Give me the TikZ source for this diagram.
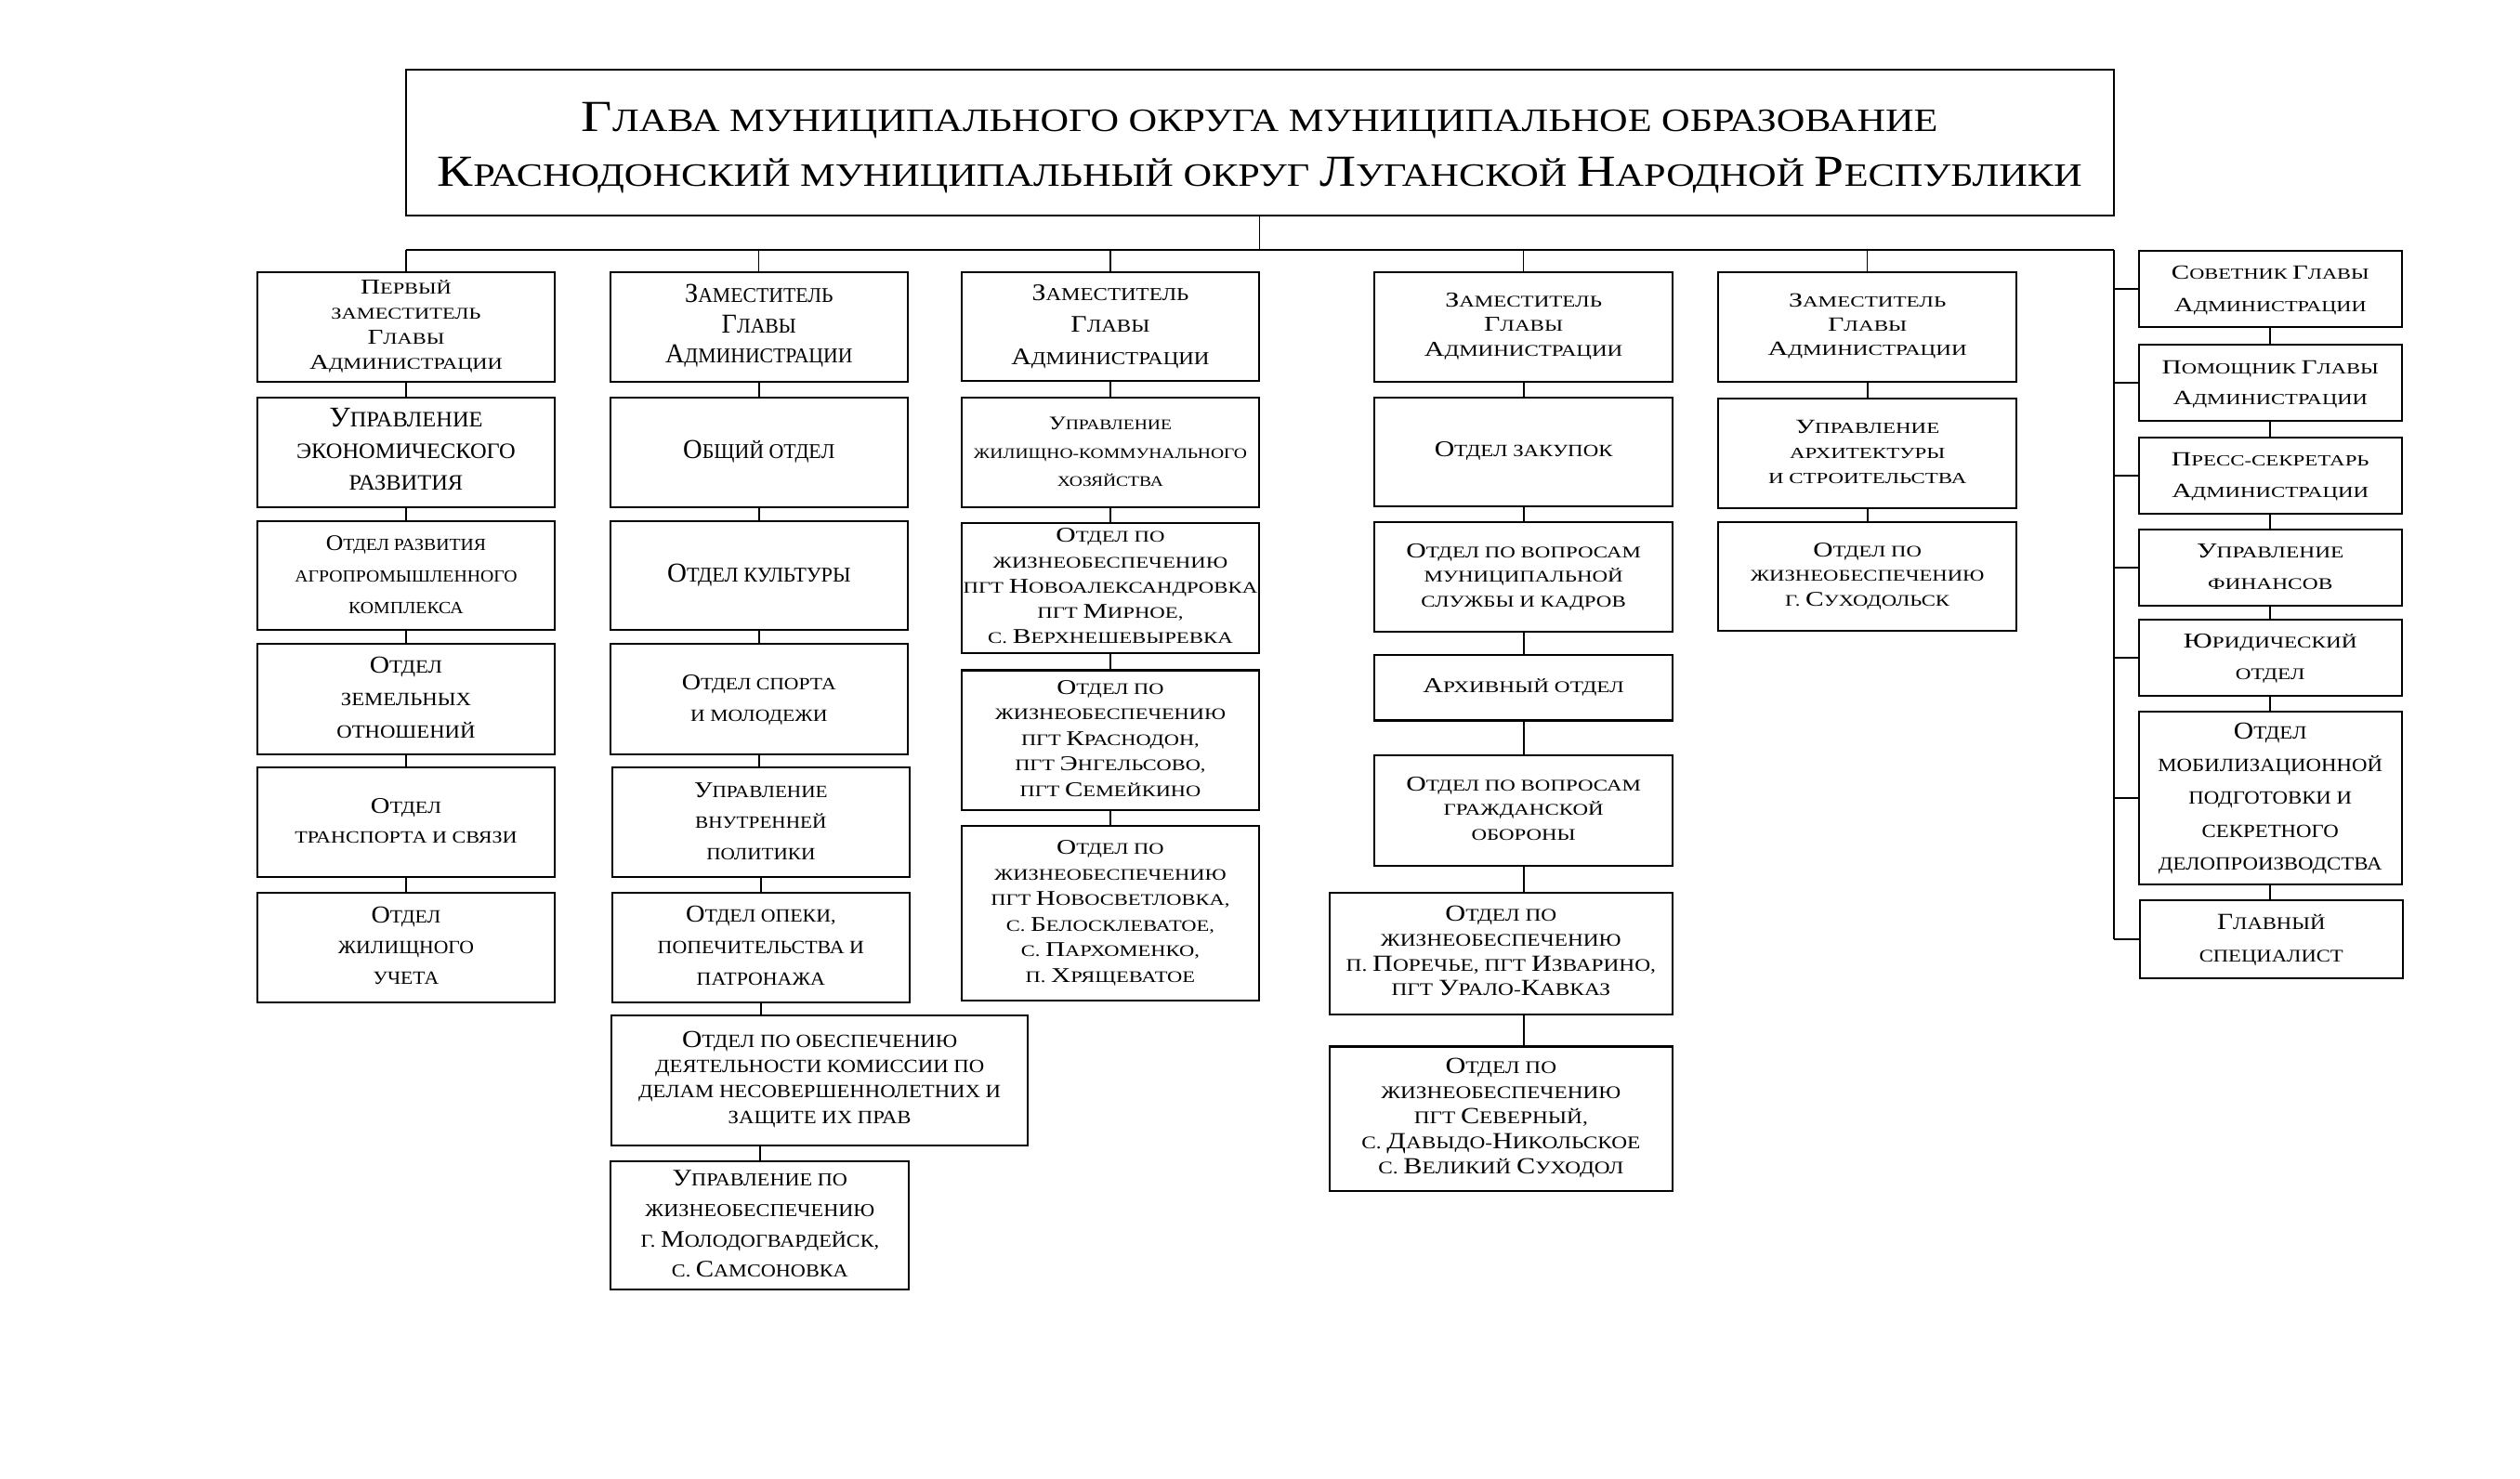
\documentclass[tikz,border=0pt]{standalone}
\usepackage{fontspec}
\usepackage{graphicx}
\setmainfont{Liberation Serif}
\newcommand\ks{1.3}
\newcommand\K[1]{\scalebox{\ks}{#1}}
\tikzset{
  box/.style={draw, line width=1.2pt, rectangle, inner sep=0pt, outer sep=0pt, align=center},
  conn/.style={line width=1pt},
  thinln/.style={line width=0.7pt},
  busln/.style={line width=1.1pt},
  rbus/.style={line width=1.15pt}
}
\newcommand\Bx[9]{\node[box,minimum width={(#3)-(#2)},minimum height={(#5)-(#4)}] (#1) at ({((#2)+(#3))/2},{((#4)+(#5))/2}) {\fontsize{#6}{#7}\selectfont\resizebox{#8pt}{\height}{\begin{tabular}{@{}c@{}}#9\end{tabular}}};}
\begin{document}
\begin{tikzpicture}[x=1pt,y=-1pt]
\useasboundingbox (0,0) rectangle (1560,915.7);
% title
\node[box,minimum width={1308.4-251.4},minimum height={133.3-43.1}] (title) at ({(251.4+1308.4)/2},{(43.1+133.3)/2})
 {\renewcommand\ks{1.36}\fontsize{20.2}{33.5}\selectfont\raisebox{-3.5pt}[\height][\depth]{\resizebox{1018pt}{\height}{\begin{tabular}{@{}c@{}}\K{Г}ЛАВА МУНИЦИПАЛЬНОГО ОКРУГА МУНИЦИПАЛЬНОЕ ОБРАЗОВАНИЕ\\ \K{К}РАСНОДОНСКИЙ МУНИЦИПАЛЬНЫЙ ОКРУГ \K{Л}УГАНСКОЙ \K{Н}АРОДНОЙ \K{Р}ЕСПУБЛИКИ\end{tabular}}}};
% column 1
\Bx{c1b1}{159.2}{343.5}{168.3}{236.4}{10.1}{15.5}{119.5}{\K{П}ЕРВЫЙ\\ ЗАМЕСТИТЕЛЬ\\ \K{Г}ЛАВЫ\\ \K{А}ДМИНИСТРАЦИИ}
\Bx{c1b2}{159.2}{343.5}{246}{313.9}{13.6}{19.6}{135.6}{\K{У}ПРАВЛЕНИЕ\\ ЭКОНОМИЧЕСКОГО\\ РАЗВИТИЯ}
\Bx{c1b3}{159.2}{343.5}{322.5}{390.2}{10.6}{19.6}{137.6}{\K{О}ТДЕЛ РАЗВИТИЯ\\ АГРОПРОМЫШЛЕННОГО\\ КОМПЛЕКСА}
\Bx{c1b4}{159.2}{343.5}{398.8}{466.9}{11.6}{20.1}{85.8}{\K{О}ТДЕЛ\\ ЗЕМЕЛЬНЫХ\\ ОТНОШЕНИЙ}
\Bx{c1b5}{159.2}{343.5}{475.1}{543}{10.7}{18.6}{137.7}{\K{О}ТДЕЛ\\ ТРАНСПОРТА И СВЯЗИ}
\Bx{c1b6}{159.2}{343.5}{552.6}{620.7}{11.6}{19}{84.2}{\K{О}ТДЕЛ\\ ЖИЛИЩНОГО\\ УЧЕТА}
% column 2
\Bx{c2b1}{377.7}{562}{168.3}{236.4}{13}{18.7}{115.9}{\K{З}АМЕСТИТЕЛЬ\\ \K{Г}ЛАВЫ\\ \K{А}ДМИНИСТРАЦИИ}
\Bx{c2b2}{377.7}{562}{246}{313.9}{13}{18.7}{93.9}{\K{О}БЩИЙ ОТДЕЛ}
\Bx{c2b3}{377.7}{562}{322.5}{390.2}{13}{18.7}{113.6}{\K{О}ТДЕЛ КУЛЬТУРЫ}
\Bx{c2b4}{377.7}{562}{398.8}{466.9}{10.7}{19.8}{95.4}{\K{О}ТДЕЛ СПОРТА\\ И МОЛОДЕЖИ}
\Bx{c2b5}{378.9}{563.1}{475.1}{543}{10.7}{19.2}{82.6}{\K{У}ПРАВЛЕНИЕ\\ ВНУТРЕННЕЙ\\ ПОЛИТИКИ}
\Bx{c2b6}{378.9}{563.1}{552.6}{620.7}{11.6}{19.4}{127.8}{\K{О}ТДЕЛ ОПЕКИ,\\ ПОПЕЧИТЕЛЬСТВА И\\ ПАТРОНАЖА}
\Bx{c2b7}{378.7}{636.2}{628.5}{709}{11.6}{15.7}{224.3}{\K{О}ТДЕЛ ПО ОБЕСПЕЧЕНИЮ\\ ДЕЯТЕЛЬНОСТИ КОМИССИИ ПО\\ ДЕЛАМ НЕСОВЕРШЕННОЛЕТНИХ И\\ ЗАЩИТЕ ИХ ПРАВ}
\Bx{c2b8}{378.1}{562.8}{719}{798.6}{11.3}{18.8}{147.6}{\K{У}ПРАВЛЕНИЕ ПО\\ ЖИЗНЕОБЕСПЕЧЕНИЮ\\ Г. \K{М}ОЛОДОГВАРДЕЙСК,\\ С. \K{С}АМСОНОВКА}
% column 3
\Bx{c3b1}{595.3}{779.4}{168.3}{235.7}{11.3}{19.6}{122.7}{\K{З}АМЕСТИТЕЛЬ\\ \K{Г}ЛАВЫ\\ \K{А}ДМИНИСТРАЦИИ}
\Bx{c3b2}{595.3}{779.4}{246.3}{314.1}{9.1}{17.6}{169.3}{\K{У}ПРАВЛЕНИЕ\\ ЖИЛИЩНО-КОММУНАЛЬНОГО\\ ХОЗЯЙСТВА}
\Bx{c3b3}{595.3}{779.4}{323.7}{404.4}{10}{15.7}{182.2}{\K{О}ТДЕЛ ПО\\ ЖИЗНЕОБЕСПЕЧЕНИЮ\\ ПГТ \K{Н}ОВОАЛЕКСАНДРОВКА\\ ПГТ \K{М}ИРНОЕ,\\ С. \K{В}ЕРХНЕШЕВЫРЕВКА}
\Bx{c3b4}{595.3}{779.4}{415}{501.4}{10}{15.8}{142.8}{\K{О}ТДЕЛ ПО\\ ЖИЗНЕОБЕСПЕЧЕНИЮ\\ ПГТ \K{К}РАСНОДОН,\\ ПГТ \K{Э}НГЕЛЬСОВО,\\ ПГТ \K{С}ЕМЕЙКИНО}
\Bx{c3b5}{595.3}{779.4}{511.3}{619.7}{10}{15.8}{148}{\K{О}ТДЕЛ ПО\\ ЖИЗНЕОБЕСПЕЧЕНИЮ\\ ПГТ \K{Н}ОВОСВЕТЛОВКА,\\ С. \K{Б}ЕЛОСКЛЕВАТОЕ,\\ С. \K{П}АРХОМЕНКО,\\ П. \K{Х}РЯЩЕВАТОЕ}
% column 4
\Bx{c4b1}{850.9}{1035.4}{168.3}{236.3}{10.1}{15.2}{122.7}{\K{З}АМЕСТИТЕЛЬ\\ \K{Г}ЛАВЫ\\ \K{А}ДМИНИСТРАЦИИ}
\Bx{c4b2}{850.9}{1035.4}{246}{313.6}{10.7}{15.2}{110.3}{\K{О}ТДЕЛ ЗАКУПОК}
\Bx{c4b3}{850.9}{1035.4}{323.5}{391.3}{10.1}{15.3}{145.3}{\K{О}ТДЕЛ ПО ВОПРОСАМ\\ МУНИЦИПАЛЬНОЙ\\ СЛУЖБЫ И КАДРОВ}
\Bx{c4b4}{850.9}{1035.4}{405.5}{446.1}{10.1}{15.3}{124.6}{\K{А}РХИВНЫЙ ОТДЕЛ}
\Bx{c4b5}{850.9}{1035.4}{467.9}{535.9}{10.1}{15.1}{145.3}{\K{О}ТДЕЛ ПО ВОПРОСАМ\\ ГРАЖДАНСКОЙ\\ ОБОРОНЫ}
\Bx{c4b6}{822.9}{1035.4}{552.8}{627.9}{11}{15.4}{191.7}{\K{О}ТДЕЛ ПО\\ ЖИЗНЕОБЕСПЕЧЕНИЮ\\ П. \K{П}ОРЕЧЬЕ, ПГТ \K{И}ЗВАРИНО,\\ ПГТ \K{У}РАЛО-\K{К}АВКАЗ}
\Bx{c4b7}{822.9}{1035.4}{648}{737.2}{11}{15.6}{172.6}{\K{О}ТДЕЛ ПО\\ ЖИЗНЕОБЕСПЕЧЕНИЮ\\ ПГТ \K{С}ЕВЕРНЫЙ,\\ С. \K{Д}АВЫДО-\K{Н}ИКОЛЬСКОЕ\\ С. \K{В}ЕЛИКИЙ \K{С}УХОДОЛ}
% column 5
\Bx{c5b1}{1063.8}{1248.2}{168.3}{236.2}{9.6}{15}{123.1}{\K{З}АМЕСТИТЕЛЬ\\ \K{Г}ЛАВЫ\\ \K{А}ДМИНИСТРАЦИИ}
\Bx{c5b2}{1063.8}{1248.2}{246.8}{314.5}{9.6}{15.6}{122.7}{\K{У}ПРАВЛЕНИЕ\\ АРХИТЕКТУРЫ\\ И СТРОИТЕЛЬСТВА}
\Bx{c5b3}{1063.8}{1248.2}{323.1}{390.7}{10}{15.4}{144.7}{\K{О}ТДЕЛ ПО\\ ЖИЗНЕОБЕСПЕЧЕНИЮ\\ Г. \K{С}УХОДОЛЬСК}
% right column
\Bx{r1}{1323.9}{1486.9}{155.3}{202.3}{9.6}{19.9}{122.3}{\K{С}ОВЕТНИК \K{Г}ЛАВЫ\\ \K{А}ДМИНИСТРАЦИИ}
\Bx{r2}{1323.9}{1486.9}{213.4}{260.8}{9.6}{19.2}{134.2}{\K{П}ОМОЩНИК \K{Г}ЛАВЫ\\ \K{А}ДМИНИСТРАЦИИ}
\Bx{r3}{1323.9}{1486.9}{270.7}{318.3}{9.6}{19.7}{122.3}{\K{П}РЕСС-СЕКРЕТАРЬ\\ \K{А}ДМИНИСТРАЦИИ}
\Bx{r4}{1323.9}{1486.9}{327.9}{374.8}{10.1}{19.2}{91.1}{\K{У}ПРАВЛЕНИЕ\\ ФИНАНСОВ}
\Bx{r5}{1323.9}{1486.9}{383.5}{430.8}{10.1}{19.2}{107.4}{\K{Ю}РИДИЧЕСКИЙ\\ ОТДЕЛ}
\Bx{r6}{1323.9}{1486.9}{440.6}{547.4}{11.6}{20.3}{139}{\K{О}ТДЕЛ\\ МОБИЛИЗАЦИОННОЙ\\ ПОДГОТОВКИ И\\ СЕКРЕТНОГО\\ ДЕЛОПРОИЗВОДСТВА}
\Bx{r7}{1324.5}{1487.5}{557.6}{605.5}{11}{20.1}{89.2}{\K{Г}ЛАВНЫЙ\\ СПЕЦИАЛИСТ}
% bus
\coordinate (busL) at (251.2,154.9);
\coordinate (busR) at (1308.6,154.9);
\draw[thinln] (title.south) -- (title.south |- busL);
\draw[busln] (busL) -- (busR);
\foreach \h in {c1b1,c2b1,c3b1,c4b1,c5b1}{\draw[thinln] (\h.north |- busL) -- (\h.north);}
\draw[rbus] (busR) -- (busR |- r7.west);
\foreach \r in {r1,r2,r3,r4,r5,r6,r7}{\draw[rbus] (busR |- \r.west) -- (\r.west);}
% column connectors
\foreach \a/\b in {c1b1/c1b2,c1b2/c1b3,c1b3/c1b4,c1b4/c1b5,c1b5/c1b6,
  c2b1/c2b2,c2b2/c2b3,c2b3/c2b4,c2b4/c2b5,c2b5/c2b6,
  c3b1/c3b2,c3b2/c3b3,c3b3/c3b4,c3b4/c3b5,
  c4b1/c4b2,c4b2/c4b3,c4b3/c4b4,c4b4/c4b5,
  c5b1/c5b2,c5b2/c5b3,
  r1/r2,r2/r3,r3/r4,r4/r5,r5/r6,r6/r7}{\draw[conn] (\a.south) -- (\a.south |- \b.north);}
\draw[conn] (c2b6.south) -- (c2b6.south |- c2b7.north);
\draw[conn] (c2b8.north |- c2b7.south) -- (c2b8.north);
\draw[conn] (c4b5.south) -- (c4b5.south |- c4b6.north);
\draw[conn] (c4b5.south |- c4b6.south) -- (c4b5.south |- c4b7.north);
\end{tikzpicture}
\end{document}
